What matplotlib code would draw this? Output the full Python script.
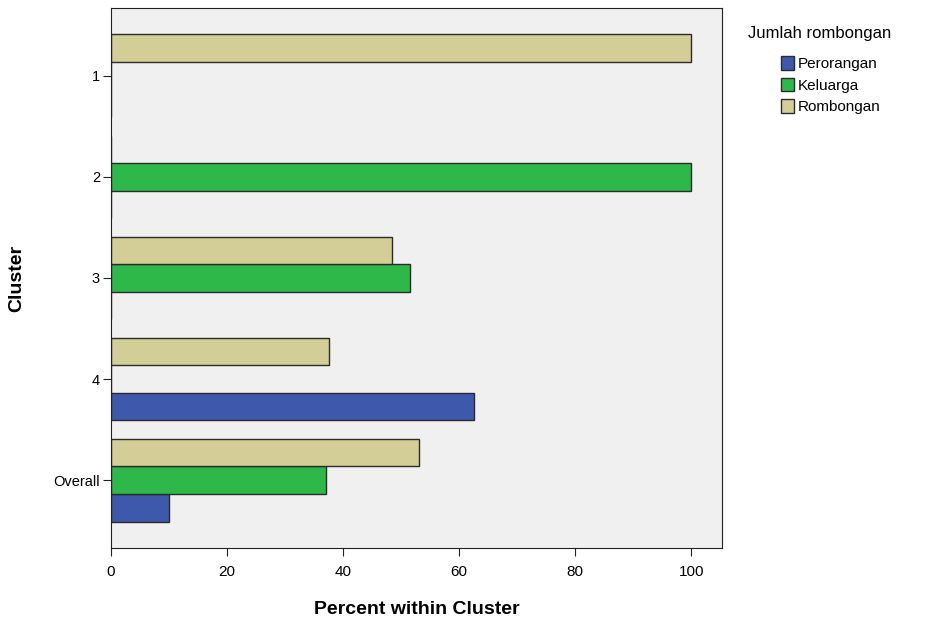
import matplotlib
matplotlib.use("Agg")
import matplotlib.pyplot as plt
import numpy as np

# Data
clusters = ["1", "2", "3", "4", "Overall"]
perorangan = [0, 0, 0, 62.5, 10.0]
keluarga = [0, 100, 51.5, 0, 37.0]
rombongan = [100, 0, 48.5, 37.5, 53.0]

series = ["Perorangan", "Keluarga", "Rombongan"]
colors = ["#3E58AC", "#2FB84A", "#D3CE97"]

plt.rcParams['font.family'] = ['Liberation Sans', 'DejaVu Sans']

fig = plt.figure(figsize=(9.26, 6.24), dpi=100)
ax = fig.add_axes([0.1199, 0.1218, 0.6598, 0.8654])
ax.set_facecolor("#F0F0F0")

y = np.arange(len(clusters))
h = 0.272
offsets = [h, 0, -h]
for vals, off, col, name in zip([perorangan, keluarga, rombongan], offsets, colors, series):
    ax.barh(y + off, vals, h, color=col, edgecolor="#2b2b2b", linewidth=1.0, label=name)

ax.set_ylim(len(clusters) - 0.33, -0.67)
ax.set_xlim(0, 105.3)
ax.set_yticks(y)
ax.set_yticklabels(clusters, fontsize=10.5)
ax.set_xticks([0, 20, 40, 60, 80, 100])
ax.tick_params(axis='x', labelsize=11, length=6, pad=6, color="#222222")
ax.tick_params(axis='y', length=6, pad=2, color="#222222")
for s in ax.spines.values():
    s.set_color("#222222")

ax.set_xlabel("Percent within Cluster", fontsize=14, fontweight="bold", labelpad=16)
ax.set_ylabel("Cluster", fontsize=14, fontweight="bold", labelpad=20)

fig.text(0.808, 0.947, "Jumlah rombongan", fontsize=12, va="center", ha="left")
handles, labels = ax.get_legend_handles_labels()
leg = fig.legend(handles, labels, loc="upper left", bbox_to_anchor=(0.843, 0.91),
                 frameon=False, fontsize=11, handlelength=0.85, handleheight=1.0,
                 handletextpad=0.25, labelspacing=0.42, borderaxespad=0, borderpad=0)

fig.savefig("out.png", dpi=100, facecolor="white")
